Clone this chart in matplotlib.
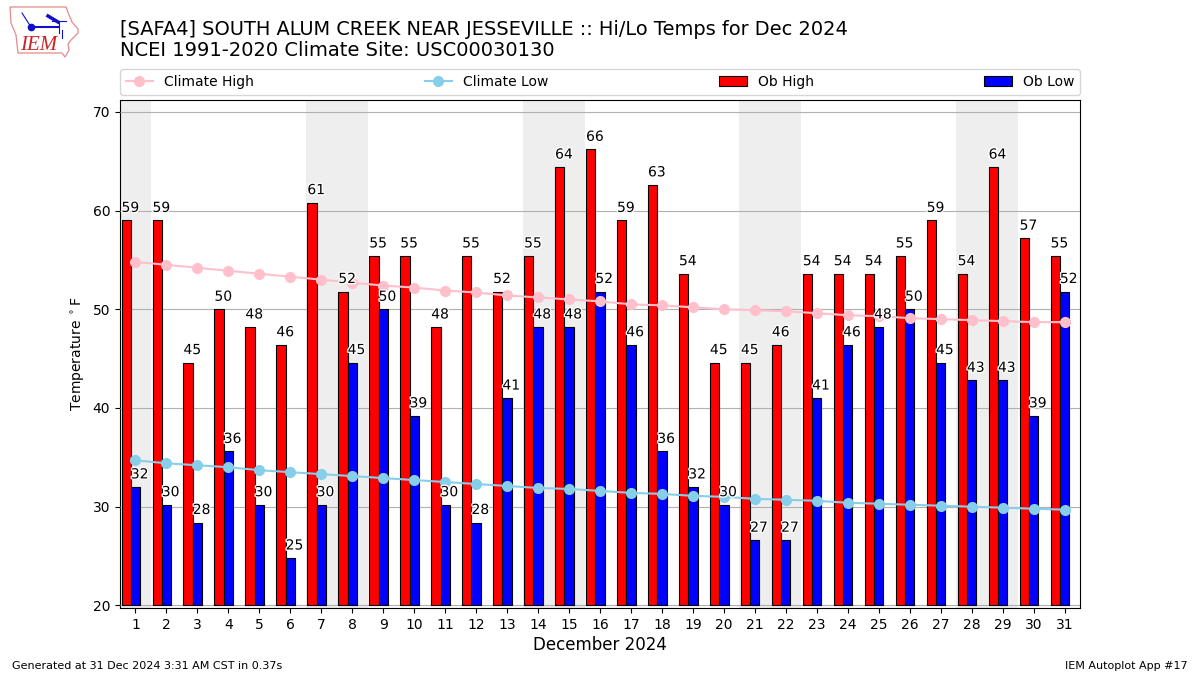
import matplotlib
matplotlib.use("Agg")
import matplotlib.pyplot as plt
import matplotlib.patheffects as pe
from matplotlib.patches import Polygon
from matplotlib.lines import Line2D

days = list(range(1, 32))
ob_high = [59, 59, 44.6, 50, 48.2, 46.4, 60.8, 51.8, 55.4, 55.4, 48.2, 55.4, 51.8, 55.4, 64.4, 66.2,
           59, 62.6, 53.6, 44.6, 44.6, 46.4, 53.6, 53.6, 53.6, 55.4, 59, 53.6, 64.4, 57.2, 55.4]
ob_low = [32, 30.2, 28.4, 35.6, 30.2, 24.8, 30.2, 44.6, 50, 39.2, 30.2, 28.4, 41, 48.2, 48.2, 51.8,
          46.4, 35.6, 32, 30.2, 26.6, 26.6, 41, 46.4, 48.2, 50, 44.6, 42.8, 42.8, 39.2, 51.8]
clim_high = [54.8, 54.5, 54.2, 53.9, 53.6, 53.3, 53.0, 52.7, 52.4, 52.2, 51.9, 51.7, 51.4, 51.2, 51.0, 50.8,
             50.5, 50.4, 50.2, 50.0, 49.9, 49.8, 49.6, 49.4, 49.3, 49.1, 49.0, 48.9, 48.8, 48.7, 48.7]
clim_low = [34.7, 34.4, 34.2, 34.0, 33.7, 33.5, 33.3, 33.1, 32.9, 32.7, 32.5, 32.3, 32.1, 31.9, 31.8, 31.6,
            31.4, 31.3, 31.1, 31.0, 30.8, 30.7, 30.6, 30.4, 30.3, 30.2, 30.1, 30.0, 29.9, 29.8, 29.7]
weekends = [(1, 1), (7, 8), (14, 15), (21, 22), (28, 29)]
title_lines = ["[SAFA4] SOUTH ALUM CREEK NEAR JESSEVILLE :: Hi/Lo Temps for Dec 2024",
               "NCEI 1991-2020 Climate Site: USC00030130"]
bar_floor = 20

W, H = 1200, 675
fig = plt.figure(figsize=(W / 100, H / 100), dpi=100)
ax = fig.add_axes([120 / W, 1 - 608 / H, 960 / W, 508 / H])

for a, b in weekends:
    ax.axvspan(a - 0.5, b + 0.5, color="#eeeeee", lw=0, zorder=1)
ax.grid(axis="y", color="#b0b0b0", lw=0.8, zorder=2)
ax.set_axisbelow(False)
for g in ax.get_ygridlines():
    g.set_zorder(2)

w = 0.3
hb = ax.bar([d - w for d in days], [v - bar_floor for v in ob_high], w, bottom=bar_floor,
            color="red", edgecolor="black", lw=0.8, zorder=3, label="Ob High")
lb = ax.bar(days, [v - bar_floor for v in ob_low], w, bottom=bar_floor,
            color="blue", edgecolor="black", lw=0.8, zorder=3, label="Ob Low")
l1, = ax.plot(days, clim_high, color="pink", marker="o", ms=7, lw=1.5, zorder=4, label="Climate High")
l2, = ax.plot(days, clim_low, color="skyblue", marker="o", ms=7, lw=1.5, zorder=4, label="Climate Low")

stroke = [pe.withStroke(linewidth=2, foreground="white")]
for d, v in zip(days, ob_high):
    ax.annotate(f"{v:.0f}", (d - 1.5 * w, v), xytext=(0, 4), textcoords="offset points",
                ha="left", va="bottom", fontsize=10, zorder=5, path_effects=stroke)
for d, v in zip(days, ob_low):
    ax.annotate(f"{v:.0f}", (d - 0.5 * w, v), xytext=(0, 4), textcoords="offset points",
                ha="left", va="bottom", fontsize=10, zorder=5, path_effects=stroke)

ax.set_xlim(0.5, 31.5)
ax.set_ylim(19.74, 71.2)
ax.set_xticks(days)
ax.set_yticks(range(20, 71, 10))
ax.tick_params(labelsize=10)
ax.set_xlabel("December 2024", fontsize=12, labelpad=3)
ax.set_ylabel(r"Temperature $^\circ$F", fontsize=10, labelpad=4)

fig.legend(handles=[l1, l2, hb, lb], loc="lower left", ncol=4, mode="expand",
           bbox_to_anchor=(120 / W, 1 - 94.5 / H, 960 / W, 27 / H), fontsize=10,
           borderaxespad=0)

fig.text(120 / W, 1 - 29.5 / H, title_lines[0], fontsize=13.98, va="center", ha="left")
fig.text(120 / W, 1 - 51 / H, title_lines[1], fontsize=14, va="center", ha="left")
fig.text(12 / W, 1 - 666 / H, "Generated at 31 Dec 2024 3:31 AM CST in 0.37s", fontsize=8, va="center", ha="left")
fig.text(1188 / W, 1 - 666 / H, "IEM Autoplot App #17", fontsize=8, va="center", ha="right")

# small logo: state outline, station sketch and wordmark
def px(x, y):
    return (x / W, 1 - y / H)

outline = [(10, 7), (66, 7), (69, 15), (72, 22), (78, 29), (78, 33), (71, 40), (68, 44), (69, 50),
           (65, 57), (62, 53), (18, 53), (16, 35), (11, 23)]
fig.add_artist(Polygon([px(*p) for p in outline], closed=True, fill=False, edgecolor="#e58a8a", lw=0.9,
                       transform=fig.transFigure))
for seg, lw in [([(31, 27), (58, 27)], 1.5), ([(22, 13), (31, 27)], 0.8), ([(48, 16), (58, 22)], 2.5),
                ([(52, 21), (66, 21)], 0.8), ([(59, 21), (59, 33)], 0.8), ([(62, 30), (62, 38)], 0.8)]:
    fig.add_artist(Line2D(*zip(*[px(*p) for p in seg]), color="#1010cc", lw=lw, transform=fig.transFigure))
fig.add_artist(Line2D([px(31, 27)[0]], [px(31, 27)[1]], marker="o", ms=4.5, color="#1010cc", transform=fig.transFigure))
fig.text(20 / W, 1 - 45 / H, "IEM", family="Liberation Serif", style="italic", fontsize=15, color="#cc2222",
         ha="left", va="center")

fig.savefig("out.png", dpi=100)
